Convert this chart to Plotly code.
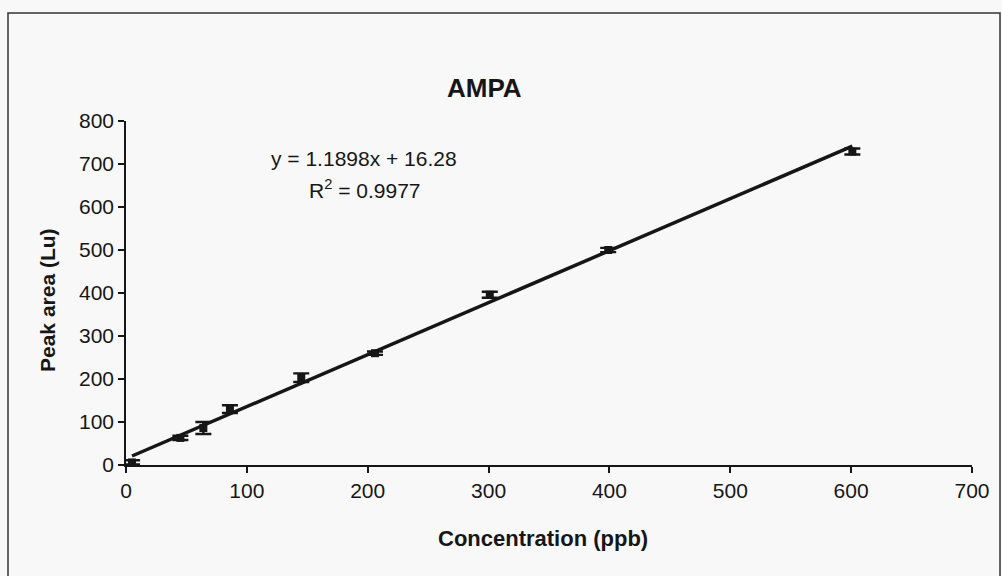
import numpy as np
import plotly.graph_objects as go

# Data
concentration = [5, 45, 64, 86, 145, 206, 301, 399, 601]
peak_area = [6, 63, 86, 130, 203, 260, 396, 500, 729]
peak_err = [5, 5, 14, 9, 10, 4, 7, 5, 7]

eq_text = "y = 1.1898x + 16.28"
r2_text = "R<sup>2</sup> = 0.9977"

x_ticks = [0, 100, 200, 300, 400, 500, 600, 700]
y_ticks = [0, 100, 200, 300, 400, 500, 600, 700, 800]

# linear trendline fitted to the data
slope, intercept = np.polyfit(concentration, peak_area, 1)
fit_x = [concentration[0], concentration[-1]]
fit_y = [slope * v + intercept for v in fit_x]

FONT = "Arial, 'Liberation Sans', sans-serif"
INK = "#161616"

fig = go.Figure()
fig.add_trace(go.Scatter(
    x=fit_x, y=fit_y, mode="lines",
    line=dict(color=INK, width=3.5),
    showlegend=False, hoverinfo="skip"))
fig.add_trace(go.Scatter(
    x=concentration, y=peak_area, mode="markers",
    marker=dict(symbol="square", size=8, color=INK),
    error_y=dict(type="data", array=peak_err, visible=True,
                 color=INK, thickness=2.4, width=8),
    showlegend=False))

W, H = 1002, 576
ml, mr, mt, mb = 126, 30, 121, 111
pw, ph = W - ml - mr, H - mt - mb

def px(xp):
    return (xp - ml) / pw

def py(yp):
    return (H - mb - yp) / ph

axis_common = dict(ticks="outside", ticklen=6, tickwidth=1.5, tickcolor=INK,
                   showline=True, linecolor=INK, linewidth=1.6,
                   showgrid=False, zeroline=False,
                   tickfont=dict(size=21, color=INK), fixedrange=True)

fig.update_layout(
    width=W, height=H,
    margin=dict(l=ml, r=mr, t=mt, b=mb, pad=0),
    paper_bgcolor="#f8f8f8", plot_bgcolor="#f8f8f8",
    font=dict(family=FONT, color=INK, size=21),
    xaxis=dict(range=[0, 700], tickvals=x_ticks, **axis_common),
    yaxis=dict(range=[0, 800], tickvals=y_ticks, **axis_common),
    shapes=[dict(type="rect", xref="paper", yref="paper",
                 x0=px(8), x1=px(1000), y0=py(590), y1=py(13),
                 line=dict(color="#333333", width=1.5))],
    annotations=[
        dict(text="<b>AMPA</b>", xref="paper", yref="paper",
             x=px(484), y=py(88), showarrow=False,
             font=dict(size=26), xanchor="center", yanchor="middle"),
        dict(text="<b>Concentration (ppb)</b>", xref="paper", yref="paper",
             x=px(543), y=py(538), showarrow=False,
             font=dict(size=22), xanchor="center", yanchor="middle"),
        dict(text="<b>Peak area (Lu)</b>", xref="paper", yref="paper",
             x=px(47), y=py(300), showarrow=False, textangle=-90,
             font=dict(size=21), xanchor="center", yanchor="middle"),
        dict(text=eq_text, xref="paper", yref="paper",
             x=px(364), y=py(158), showarrow=False,
             font=dict(size=21), xanchor="center", yanchor="middle"),
        dict(text=r2_text, xref="paper", yref="paper",
             x=px(365), y=py(189), showarrow=False,
             font=dict(size=21), xanchor="center", yanchor="middle"),
    ],
)

fig.write_html("out.html")
